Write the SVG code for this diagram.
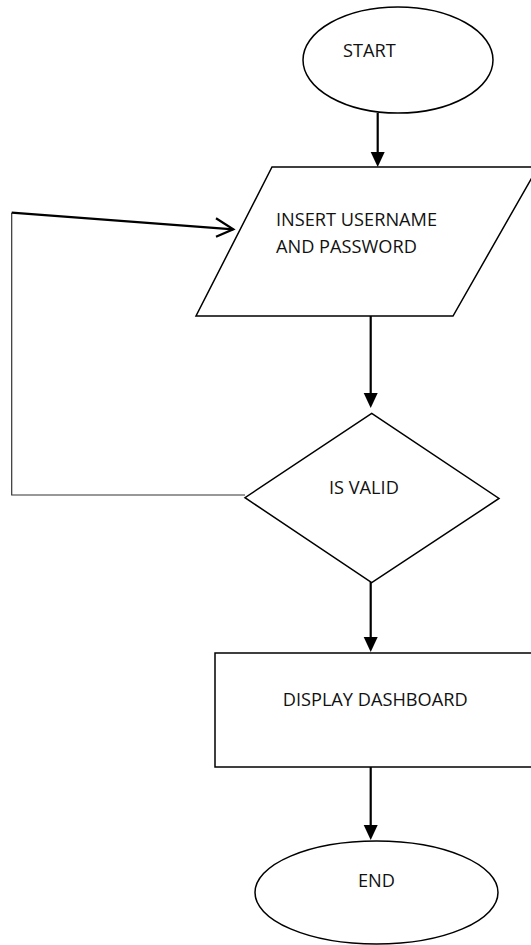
<svg xmlns="http://www.w3.org/2000/svg" width="531" height="945" viewBox="0 0 531 945">
<defs>
<style>
.shape{fill:#fff;stroke:#000;stroke-width:1.5}
.lbl{font-family:"Open Sans","Liberation Sans",sans-serif;font-size:18.2px;fill:#111}
.conn{fill:none;stroke:#000;stroke-width:2.2}
.thin{fill:none;stroke:#333;stroke-width:1.2}
.head{fill:#000}
</style>
</defs>
<rect width="531" height="945" fill="#fff"/>
<g id="connectors">
<line class="conn" x1="377.7" y1="113" x2="377.7" y2="152"/>
<polygon class="head" points="370.7,152 384.7,152 377.7,167"/>
<line class="conn" x1="370.7" y1="316" x2="370.7" y2="393"/>
<polygon class="head" points="363.7,393 377.7,393 370.7,408"/>
<line class="conn" x1="370.7" y1="582" x2="370.7" y2="637"/>
<polygon class="head" points="363.7,637 377.7,637 370.7,652"/>
<line class="conn" x1="370.7" y1="767" x2="370.7" y2="825"/>
<polygon class="head" points="363.7,825 377.7,825 370.7,840"/>
<polyline class="thin" points="245,495 11.7,495 11.7,212.7"/>
<line class="conn" x1="11.7" y1="212.7" x2="233.3" y2="229.3"/>
<polyline class="conn" points="216,218.3 233.3,229.3 216,236.7"/>
</g>
<g id="start">
<ellipse class="shape" cx="398" cy="60" rx="95" ry="53"/>
<text class="lbl" x="343" y="57">START</text>
</g>
<g id="insert">
<polygon class="shape" points="272,167 538,167 453,316 196,316"/>
<text class="lbl" x="276" y="226">INSERT USERNAME</text>
<text class="lbl" x="276" y="252.5">AND PASSWORD</text>
</g>
<g id="isvalid">
<polygon class="shape" points="371.7,413.3 499,498.5 371.7,582.7 245,497.7"/>
<text class="lbl" x="329" y="494">IS VALID</text>
</g>
<g id="dashboard">
<rect class="shape" x="215" y="653" width="330" height="114"/>
<text class="lbl" x="282.7" y="706">DISPLAY DASHBOARD</text>
</g>
<g id="end">
<ellipse class="shape" cx="376.5" cy="892.5" rx="121.5" ry="51.5"/>
<text class="lbl" x="358" y="886.5">END</text>
</g>
</svg>
